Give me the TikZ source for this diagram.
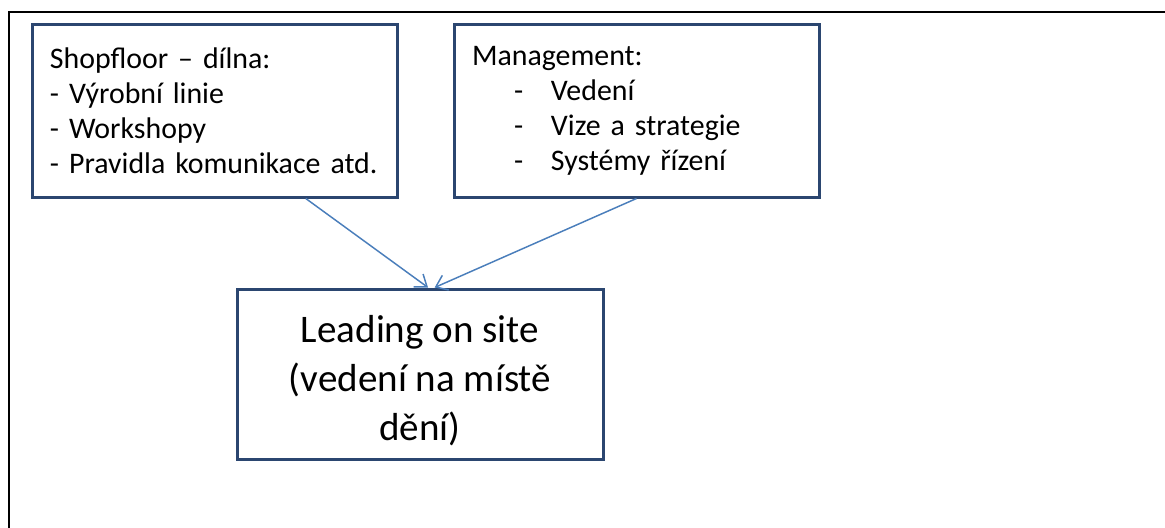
\documentclass[tikz,border=0pt]{standalone}
\usepackage{fontspec}
\setmainfont{Carlito}
\usepackage{tikz}
\usetikzlibrary{arrows.meta,positioning,calc}

\definecolor{boxblue}{HTML}{2B4670}
\definecolor{arrowblue}{HTML}{4A7EBB}

\begin{document}
\begin{tikzpicture}[
  x=0.75pt, y=-0.75pt,
  node distance=40.5pt,
  box/.style={draw=boxblue, line width=2.25pt, fill=white},
  listbox/.style={box, align=left, text width=246.75pt, inner xsep=13.5pt,
    minimum height=129pt, font=\fontsize{22.4}{26.25}\selectfont},
  leadbox/.style={box, align=center, minimum width=274.5pt, minimum height=127.5pt,
    font=\fontsize{29.3}{36.75}\selectfont},
  arrow/.style={-{Straight Barb[length=8pt, width=12pt]}, draw=arrowblue, line width=1.1pt}
]
\fill[white] (0,0) rectangle (1165,528);
\useasboundingbox (0,0) rectangle (1165,528);
% frame of the page
\begin{scope}
\clip (0,0) rectangle (1165,528);
\draw[line width=0.9pt] (9,560) -- (9,12) -- (1200,12);
\end{scope}

\node[listbox] (shop) at (214.5,111) {Shopfloor -- dílna:\\- Výrobní linie\\- Workshopy\\- Pravidla komunikace atd.};
\node[listbox, right=of shop] (mgmt) {Management:\\
  \makebox[59.25pt][l]{\hspace*{31.5pt}-}Vedení\\
  \makebox[59.25pt][l]{\hspace*{31.5pt}-}Vize a strategie\\
  \makebox[59.25pt][l]{\hspace*{31.5pt}-}Systémy řízení};
\node[leadbox] (lead) at (420,374) {\rule{0pt}{30pt}Leading on site\\(vedení na místě\\dění)};

\draw[arrow] ($(shop.south west)!0.748!(shop.south east)$) -- ([xshift=6pt]lead.north);
\draw[arrow] (mgmt.south) -- ([xshift=11pt]lead.north);
\end{tikzpicture}
\end{document}
